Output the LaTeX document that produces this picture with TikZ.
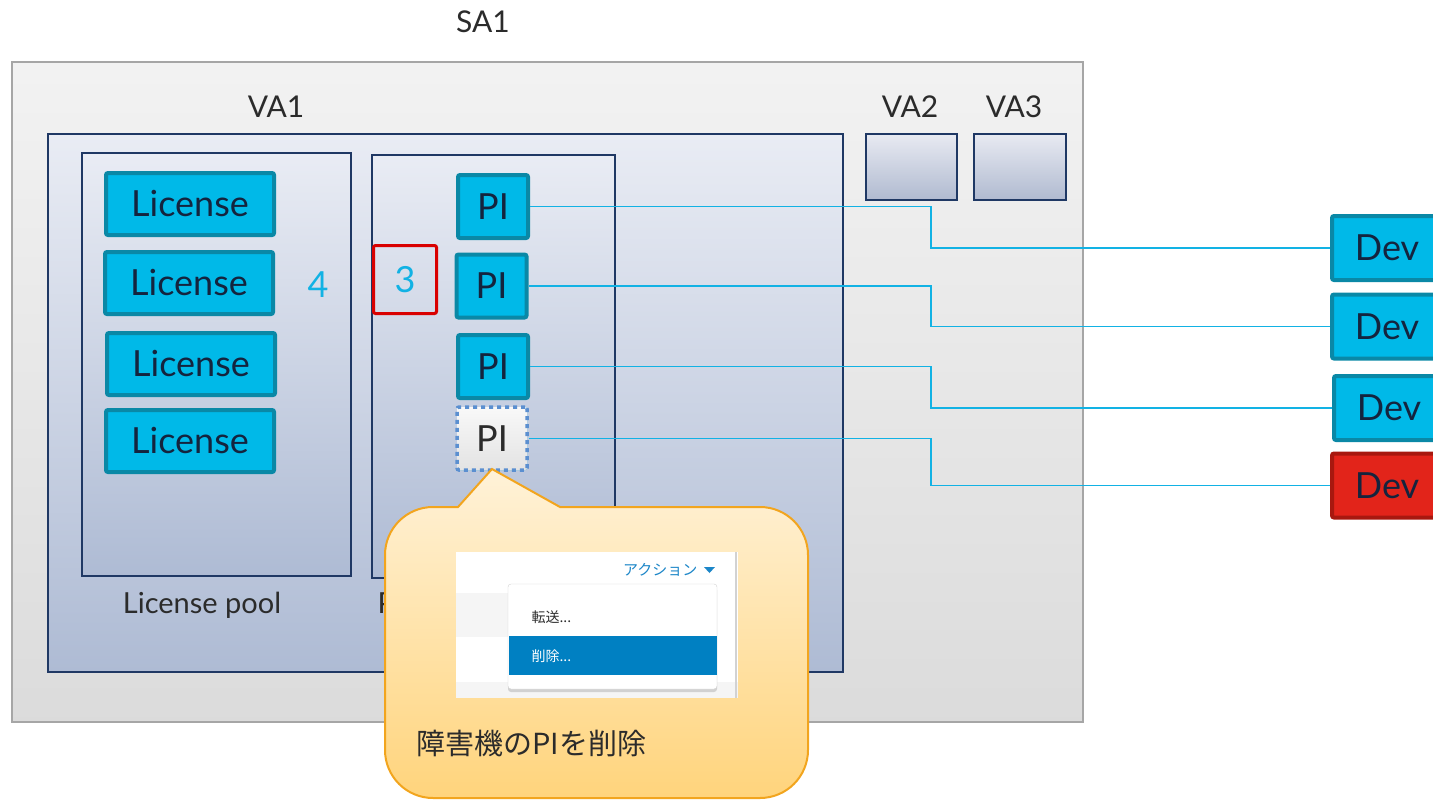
\documentclass[tikz,border=0pt]{standalone}
\usepackage{fontspec}
\setmainfont{Lato}
\newfontfamily\jp{Noto Sans CJK JP}
\usetikzlibrary{shadows}
\definecolor{ink}{HTML}{2B2B2B}
\definecolor{navy}{HTML}{1F3864}
\definecolor{boxtext}{HTML}{14243E}
\definecolor{cyanfill}{HTML}{00B9E8}
\definecolor{cyanedge}{HTML}{0A88A6}
\definecolor{cyanline}{HTML}{12B2E4}
\definecolor{redfill}{HTML}{E2241A}
\definecolor{rededge}{HTML}{A8180F}
\definecolor{ghostedge}{HTML}{5B8FD0}
\definecolor{calloutedge}{HTML}{F2A51E}
\definecolor{callouttop}{HTML}{FFF2D8}
\definecolor{calloutbot}{HTML}{FFD47C}
\definecolor{paneltop}{HTML}{E9ECF4}
\definecolor{panelbot}{HTML}{AEBBD4}
\definecolor{smalltop}{HTML}{E8EAF2}
\definecolor{smallbot}{HTML}{B0BAD0}
\definecolor{menublue}{HTML}{0080C2}
\definecolor{linkblue}{HTML}{1C86C8}
\tikzset{
  label/.style={text=ink, font=\fontsize{30}{34}\selectfont},
  panel/.style={draw=navy, line width=1.5, top color=paneltop, bottom color=panelbot},
  outer/.style={draw=gray!70, line width=1.5, top color=gray!10, bottom color=gray!28},
  small/.style={draw=navy, line width=1.5, top color=smalltop, bottom color=smallbot},
  lic/.style={draw=cyanedge, fill=cyanfill, line width=4, rounded corners=2,
    minimum width=168, minimum height=62, text=boxtext, font=\fontsize{36}{40}\selectfont},
  pi/.style={lic, minimum width=70, minimum height=63},
  ghost/.style={pi, draw=ghostedge, dash pattern=on 4 off 4, line width=3.5,
    top color=gray!5, bottom color=gray!22, text=ink},
  dev/.style={lic, minimum width=110, minimum height=64},
  devbad/.style={dev, draw=rededge, fill=redfill},
  count/.style={text=cyanline, font=\fontsize{36}{40}\selectfont},
  link/.style={cyanline, line width=1.5},
  callout/.style={draw=calloutedge, line width=2, top color=callouttop, bottom color=calloutbot},
  menutext/.style={font=\jp\fontsize{14}{16}\selectfont, anchor=west}
}
\begin{document}
\begin{tikzpicture}[x=1pt,y=-1pt]
\useasboundingbox (0,0) rectangle (1433,801);
\clip (0,0) rectangle (1433,801);

\node[label] (sa) at (483,22) {SA1};
\path[outer] (12,62) rectangle (1083,722);

\node[label] (va1) at (276,107) {VA1};
\node[label] (va2) at (910,107) {VA2};
\node[label] (va3) at (1014,107) {VA3};
\path[panel] (48,134) rectangle (843,672);
\path[small] (866,134) rectangle (957,200);
\path[small] (974,134) rectangle (1066,200);

\path[panel] (82,153) rectangle (351,576);
\path[panel] (372,155) rectangle (615,578);
\node[label, font=\fontsize{29}{32}\selectfont] (licpool) at (202,605) {License pool};
\node[label, font=\fontsize{29}{32}\selectfont, anchor=west] (pipool) at (374,605) {PI pool};

\node[lic] (lic1) at (190,204) {License};
\node[lic] (lic2) at (189,283) {License};
\node[lic] (lic3) at (191,364) {License};
\node[lic] (lic4) at (190,441) {License};
\node[count] (free) at (318,285) {4};
\node[count, draw=red!85!black, line width=3, rounded corners=2,
  minimum width=63, minimum height=68] (used) at (405,279.5) {3};

\node[pi] (pi1) at (493,206.5) {PI};
\node[pi] (pi2) at (491.5,286) {PI};
\node[pi] (pi3) at (493,366.5) {PI};
\node[ghost] (pi4) at (492,438.5) {PI};

\node[dev] (dev1) at (1387,248) {Dev};
\node[dev] (dev2) at (1387,326.5) {Dev};
\node[dev] (dev3) at (1389,408) {Dev};
\node[devbad] (dev4) at (1387,485.5) {Dev};

\coordinate (bend) at (931,0);
\draw[link] (pi1.east) -- (pi1.east -| bend) |- (dev1.west);
\draw[link] (pi2.east) -- (pi2.east -| bend) |- (dev2.west);
\draw[link] (pi3.east) -- (pi3.east -| bend) |- (dev3.west);
\draw[link] (pi4.east) -- (pi4.east -| bend) |- (dev4.west);

\path[callout] (492,469) -- (560,507) -- (760,507) arc (270:360:48) -- (808,750)
  arc (0:90:48) -- (433,798) arc (90:180:48) -- (385,555) arc (180:270:48)
  -- (458,507) -- cycle;

\fill[white] (456,552) rectangle (738,698);
\fill[gray!8] (456,593) rectangle (510,637);
\fill[gray!8] (456,682) rectangle (738,698);
\draw[gray!35, line width=1.5] (736,552) -- (736,698);
\node[anchor=east, text=linkblue, font=\jp\fontsize{15}{17}\selectfont] (action) at (701,570) {アクション};
\fill[linkblue] (704,567) -- (715,567) -- (709.5,573) -- cycle;
\node[draw=gray!35, fill=white, rounded corners=3, minimum width=209, minimum height=105,
  drop shadow={opacity=0.3, shadow xshift=0pt, shadow yshift=-3pt}] (menu) at (612.5,636.5) {};
\fill[menublue] (508.5,636) rectangle (716.5,675);
\node[menutext, text=ink] (fwd) at (528,617) {転送...};
\node[menutext, text=white] (del) at (528,656) {削除...};

\node[anchor=west, text=ink, font=\jp\fontsize{29}{33}\selectfont] (note) at (413,743) {障害機のPIを削除};
\end{tikzpicture}
\end{document}
